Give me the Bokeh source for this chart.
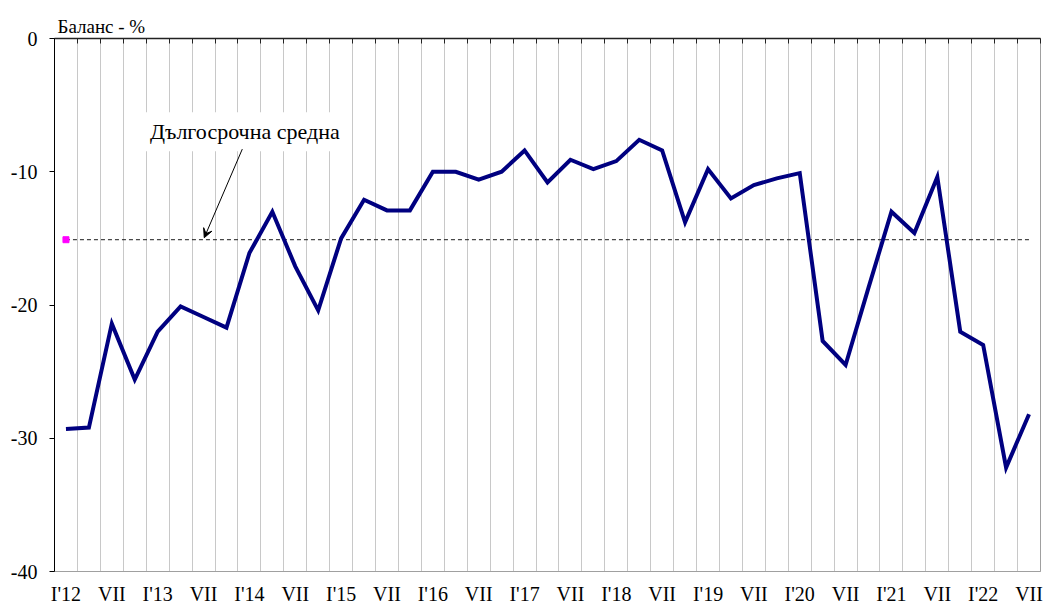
from bokeh.plotting import figure
from bokeh.models import Range1d, LinearAxis, FixedTicker, Label, Arrow, VeeHead
from bokeh.embed import file_html
from bokeh.resources import INLINE

# ---- data ----
tick_labels = ["I'12", "VII", "I'13", "VII", "I'14", "VII", "I'15", "VII",
               "I'16", "VII", "I'17", "VII", "I'18", "VII", "I'19", "VII",
               "I'20", "VII", "I'21", "VII", "I'22", "VII"]
y_ticks = [-40, -30, -20, -10, 0]
y_tick_labels = ["-40", "-30", "-20", "-10", "0"]
balance = [-29.3, -29.2, -21.4, -25.6, -22.0, -20.1, -20.9, -21.7,
           -16.1, -13.0, -17.1, -20.4, -15.0, -12.1, -12.9, -12.9,
           -10.0, -10.0, -10.6, -10.0, -8.4, -10.8, -9.1, -9.8,
           -9.2, -7.6, -8.4, -13.8, -9.8, -12.0, -11.0, -10.5,
           -10.1, -22.7, -24.5, -18.7, -13.0, -14.6, -10.4, -22.0,
           -23.0, -32.2, -28.2]
long_term_avg = -15.1
y_title = "Баланс - %"
avg_label = "Дългосрочна средна"

n = len(balance)
xs = list(range(n))
FONT = "Liberation Serif"

p = figure(width=1045, height=607, output_backend="svg", toolbar_location=None,
           x_range=Range1d(-0.5, n - 0.5), y_range=Range1d(-40, 0),
           min_border_left=54, min_border_right=5, min_border_top=38,
           min_border_bottom=35, background_fill_color="white",
           border_fill_color="white")
p.outline_line_color = "#a0a0a0"
p.outline_line_width = 1

# title (axis unit)
p.title.text = y_title
p.title.align = "left"
p.title.text_font = FONT
p.title.text_font_size = "19px"
p.title.text_font_style = "normal"
p.title.text_color = "black"
p.title.offset = 3
p.title.standoff = 3

# gridlines at category boundaries
bounds = [i + 0.5 for i in range(-1, n)]
p.xgrid.ticker = FixedTicker(ticks=[i + 0.5 for i in range(n - 1)])
p.xgrid.grid_line_color = "#c8c8c8"
p.xgrid.grid_line_width = 1
p.ygrid.grid_line_color = None

# bottom axis labels
p.xaxis.ticker = FixedTicker(ticks=list(range(0, n, 2)))
p.xaxis.major_label_overrides = {i * 2: lab for i, lab in enumerate(tick_labels)}
p.xaxis.major_tick_out = 0
p.xaxis.major_tick_in = 0
p.xaxis.minor_tick_out = 0
p.xaxis.minor_tick_in = 0
p.xaxis.axis_line_color = "#a0a0a0"
p.xaxis.major_label_standoff = 11
p.xaxis.major_label_text_font = FONT
p.xaxis.major_label_text_font_size = "20px"
p.xaxis.major_label_text_color = "black"

# left axis
p.yaxis.ticker = FixedTicker(ticks=y_ticks)
p.yaxis.major_label_overrides = dict(zip(y_ticks, y_tick_labels))
p.yaxis.major_tick_out = 5
p.yaxis.major_tick_in = 0
p.yaxis.minor_tick_out = 0
p.yaxis.minor_tick_in = 0
p.yaxis.axis_line_color = "black"
p.yaxis.major_tick_line_color = "black"
p.yaxis.major_label_standoff = 12
p.yaxis.major_label_text_font = FONT
p.yaxis.major_label_text_font_size = "20px"
p.yaxis.major_label_text_color = "black"

# top axis (category axis crossing at 0) with inward ticks
top = LinearAxis(ticker=FixedTicker(ticks=bounds))
top.major_label_overrides = {b: "" for b in bounds}
top.major_tick_in = 5
top.major_tick_out = 0
top.minor_tick_in = 0
top.minor_tick_out = 0
top.axis_line_color = "#222222"
top.axis_line_width = 1.5
top.major_tick_line_color = "#222222"
top.major_label_standoff = 6
p.add_layout(top, "above")

# long-term average
p.line([0, n - 1], [long_term_avg, long_term_avg], line_color="#1a1a1a",
       line_width=1, line_dash="4 3")
p.scatter([0], [long_term_avg], marker="square", size=6,
          fill_color="#ff00ff", line_color="#ff00ff")

# main series
p.line(xs, balance, line_color="#000080", line_width=4, line_join="miter")

# annotations
p.add_layout(Label(x=3.36, y=-7.0, text=avg_label, text_font=FONT,
                   text_font_size="22px", text_color="black",
                   text_baseline="alphabetic", background_fill_color="white",
                   padding=7))
p.add_layout(Arrow(end=VeeHead(size=9, line_color="black", line_width=1,
                               fill_color="black"),
                   x_start=7.69, y_start=-8.3, x_end=6.03, y_end=-14.95,
                   line_color="black", line_width=1))

open("out.html", "w").write(file_html(p, INLINE))
